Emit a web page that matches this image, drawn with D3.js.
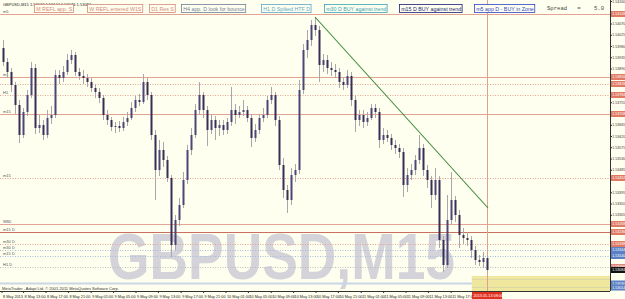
<!DOCTYPE html>
<html><head><meta charset="utf-8">
<script src="https://cdn.jsdelivr.net/npm/d3@7"></script>
<style>html,body{margin:0;padding:0;background:#fffff0;overflow:hidden}</style>
</head><body><svg id="c" width="625" height="299"></svg>
<script>
// ---- data (GBPUSD M15) ----
const symbol = "GBPUSD,M15";
const openP  = [1.53972,1.53916,1.53876,1.53824,1.53744,1.53624,1.53716,1.53784,1.53892,1.53652,1.53664,1.53624,1.53692,1.53704,1.53864,1.53852,1.53876,1.53924,1.53944,1.53876,1.53860,1.53852,1.53836,1.53812,1.53796,1.53772,1.53704,1.53684,1.53656,1.53660,1.53652,1.53676,1.53692,1.53732,1.53764,1.53756,1.53836,1.53784,1.53624,1.53484,1.53564,1.53524,1.53452,1.53184,1.53284,1.53344,1.53444,1.53564,1.53624,1.53724,1.53784,1.53724,1.53644,1.53684,1.53652,1.53664,1.53644,1.53676,1.53724,1.53704,1.53716,1.53724,1.53692,1.53612,1.53644,1.53692,1.53704,1.53764,1.53784,1.53684,1.53504,1.53404,1.53364,1.53464,1.53484,1.53804,1.53964,1.54004,1.54064,1.54044,1.53904,1.53924,1.53892,1.53884,1.53876,1.53836,1.53824,1.53860,1.53764,1.53684,1.53704,1.53676,1.53692,1.53732,1.53716,1.53604,1.53624,1.53612,1.53584,1.53572,1.53556,1.53424,1.53464,1.53484,1.53524,1.53572,1.53484,1.53444,1.53384,1.53444,1.53204,1.53104,1.53284,1.53364,1.53304,1.53224,1.53212,1.53204,1.53164,1.53124,1.53116,1.53132];
const highP  = [1.54004,1.53932,1.53892,1.53836,1.53764,1.53732,1.53804,1.53916,1.53908,1.53704,1.53684,1.53724,1.53740,1.53884,1.53884,1.53900,1.53948,1.53964,1.53956,1.53892,1.53884,1.53868,1.53852,1.53828,1.53812,1.53784,1.53724,1.53696,1.53676,1.53680,1.53696,1.53716,1.53756,1.53780,1.53788,1.53868,1.53852,1.53796,1.53644,1.53604,1.53596,1.53540,1.53464,1.53304,1.53372,1.53476,1.53584,1.53652,1.53748,1.53836,1.53796,1.53740,1.53708,1.53700,1.53684,1.53684,1.53692,1.53816,1.53748,1.53740,1.53764,1.53740,1.53708,1.53668,1.53708,1.53732,1.53780,1.53816,1.53796,1.53700,1.53532,1.53424,1.53492,1.53508,1.53844,1.53988,1.54044,1.54084,1.54096,1.54060,1.53948,1.53944,1.53916,1.53908,1.53892,1.53852,1.53884,1.53876,1.53780,1.53724,1.53724,1.53716,1.53748,1.53748,1.53732,1.53652,1.53644,1.53628,1.53604,1.53588,1.53572,1.53492,1.53508,1.53544,1.53624,1.53588,1.53504,1.53460,1.53492,1.53460,1.53220,1.53384,1.53476,1.53380,1.53324,1.53252,1.53236,1.53220,1.53180,1.53144,1.53156,1.53144];
const lowP   = [1.53900,1.53852,1.53796,1.53708,1.53592,1.53612,1.53700,1.53772,1.53628,1.53632,1.53604,1.53612,1.53668,1.53692,1.53828,1.53836,1.53864,1.53908,1.53860,1.53844,1.53828,1.53816,1.53796,1.53772,1.53752,1.53684,1.53664,1.53640,1.53632,1.53636,1.53640,1.53660,1.53684,1.53716,1.53740,1.53748,1.53764,1.53604,1.53364,1.53460,1.53496,1.53436,1.53136,1.53164,1.53260,1.53332,1.53428,1.53544,1.53612,1.53708,1.53692,1.53580,1.53628,1.53604,1.53620,1.53624,1.53628,1.53660,1.53668,1.53692,1.53700,1.53676,1.53576,1.53596,1.53628,1.53676,1.53692,1.53748,1.53660,1.53484,1.53372,1.53312,1.53344,1.53436,1.53468,1.53788,1.53932,1.53980,1.54020,1.53836,1.53876,1.53868,1.53860,1.53852,1.53812,1.53804,1.53812,1.53740,1.53636,1.53660,1.53652,1.53660,1.53684,1.53692,1.53572,1.53588,1.53596,1.53564,1.53548,1.53532,1.53376,1.53396,1.53444,1.53464,1.53508,1.53460,1.53412,1.53332,1.53364,1.53172,1.53076,1.53092,1.53268,1.53276,1.53172,1.53188,1.53180,1.53132,1.53104,1.53100,1.53092,1.53076];
const closeP = [1.53916,1.53876,1.53824,1.53744,1.53624,1.53716,1.53784,1.53892,1.53652,1.53664,1.53624,1.53692,1.53704,1.53864,1.53852,1.53876,1.53924,1.53944,1.53876,1.53860,1.53852,1.53836,1.53812,1.53796,1.53772,1.53704,1.53684,1.53656,1.53660,1.53652,1.53676,1.53692,1.53732,1.53764,1.53756,1.53836,1.53784,1.53624,1.53484,1.53564,1.53524,1.53452,1.53184,1.53284,1.53344,1.53444,1.53564,1.53624,1.53724,1.53784,1.53724,1.53644,1.53684,1.53652,1.53664,1.53644,1.53676,1.53724,1.53704,1.53716,1.53724,1.53692,1.53612,1.53644,1.53692,1.53704,1.53764,1.53784,1.53684,1.53504,1.53404,1.53364,1.53464,1.53484,1.53804,1.53964,1.54004,1.54064,1.54044,1.53904,1.53924,1.53892,1.53884,1.53876,1.53836,1.53824,1.53860,1.53764,1.53684,1.53704,1.53676,1.53692,1.53732,1.53716,1.53604,1.53624,1.53612,1.53584,1.53572,1.53556,1.53424,1.53464,1.53484,1.53524,1.53572,1.53484,1.53444,1.53384,1.53444,1.53204,1.53104,1.53284,1.53364,1.53304,1.53224,1.53212,1.53204,1.53164,1.53124,1.53116,1.53132,1.53084];

// horizontal levels
const levelPrices = [1.54108,1.53856,1.53828,1.53784,1.53708,1.53452,1.53268,1.53236,1.53188,1.53164,1.53140,1.53096];
const levelKinds  = ["res","res","resDot","resDot","res","resDot","res","resStrong","resDot","supDot","supDot","grayDot"];
const levelNames  = ["m5","m1","","H1","m15","m15","W80","m15 D","m30 D","m30 D","m15 D","H1 D"];
const supportLine = 1.53030;
const zoneTop = 1.53060, zoneBottom = 1.53000;
const zonePrices = [1.53046,1.53014];

// trend line  [bar index, price]
const trendStart = [78, 1.54096], trendEnd = [121.25, 1.53332];
const nowBar = 121;
const zoneStartBar = 117.2;

// price axis
const priceTicks = [1.54160,1.54115,1.54070,1.54025,1.53980,1.53935,1.53890,1.53845,1.53800,1.53755,1.53710,1.53665,1.53620,1.53575,1.53530,1.53485,1.53440,1.53395,1.53350,1.53305,1.53260,1.53215,1.53170,1.53125,1.53080,1.53035];

// time axis
const timeLabels = ["8 May 2013","8 May 13:00","8 May 17:00","8 May 21:00","9 May 01:00","9 May 05:00","9 May 09:00","9 May 13:00","9 May 17:00","9 May 21:00","10 May 01:00","10 May 05:00","10 May 09:00","10 May 13:00","10 May 17:00","10 May 21:00","11 May 01:00","11 May 05:00","11 May 09:00","11 May 13:00","11 May 17:00"];
const timeBars = [0,5.4,11,16.6,22.3,27.9,33.5,39.1,44.8,50.4,56,61.6,67.3,72.9,78.5,84.1,89.8,95.4,101,106.6,112.3];
const nowLabel = "2013.05.13 08:00";

// header boxes
const noteTexts = ["M REFL app. S","W REFL entered W1S","D1 Res S","H4 app. D look for bounce","H1 D Spiked HTF D","m30 D BUY against trend","m15 D BUY against trend","m5 app D - BUY in Zone"];
const noteColors = ["#d4897a","#d4897a","#d4897a","#6f8298","#5ea6c8","#3aa3b5","#1b1f7a","#2f45c8"];
const notePos = [35,88,150,182,262,325,400,475];
const spreadValue = 5.0;

// ---- drawing ----
const W = 625, H = 299, plotR = 610, plotB = 291;
const svg = d3.select("#c");
const x = d3.scaleLinear().domain([0,121]).range([3,487]);
const y = d3.scaleLinear().domain([1.53000,1.54164]).range([291,0]);
const fmt = d3.format(".5f");
const FONT = "Arial, Liberation Sans, sans-serif";

svg.append("rect").attr("width",W).attr("height",H).attr("fill","#fffff0");

// watermark
svg.append("text").attr("x",108).attr("y",279).text(symbol)
  .attr("font-family",FONT).attr("font-weight","bold")
  .attr("font-size",64).attr("fill","#d3d3d9").attr("textLength",347).attr("lengthAdjust","spacingAndGlyphs");

// yellow zone
svg.append("rect").attr("x",x(zoneStartBar)).attr("y",y(zoneTop)).attr("width",plotR-x(zoneStartBar)).attr("height",y(zoneBottom)-y(zoneTop)).attr("fill","#efe79e");
svg.selectAll(".zl").data(zonePrices).join("line").attr("x1",x(zoneStartBar)).attr("x2",plotR)
  .attr("y1",d=>y(d)).attr("y2",d=>y(d)).attr("stroke","#d8d6a8").attr("stroke-width",0.8);
// light support band
svg.append("line").attr("x1",0).attr("x2",x(zoneStartBar)).attr("y1",y(supportLine)).attr("y2",y(supportLine))
  .attr("stroke","#c9d6e6").attr("stroke-width",2.2);

// levels
const kindStyle = {
  res:{c:"#e2a595",w:1,d:null}, resDot:{c:"#e2a595",w:1,d:"1,1.5"}, resStrong:{c:"#c8705e",w:1,d:null},
  supDot:{c:"#a9bcd6",w:1,d:"1,1.5"}, grayDot:{c:"#bcbcbc",w:1,d:"1,1.5"}
};
svg.selectAll(".lv").data(levelPrices).join("line")
  .attr("x1",0).attr("x2",plotR).attr("y1",d=>Math.round(y(d))+0.5).attr("y2",d=>Math.round(y(d))+0.5)
  .attr("stroke",(d,i)=>kindStyle[levelKinds[i]].c).attr("stroke-width",(d,i)=>kindStyle[levelKinds[i]].w)
  .attr("stroke-dasharray",(d,i)=>kindStyle[levelKinds[i]].d);
svg.selectAll(".lvt").data(levelPrices).join("text")
  .attr("x",3).attr("y",d=>Math.round(y(d))-1).text((d,i)=>levelNames[i])
  .attr("font-family",FONT).attr("font-size",4).attr("fill","#555");

// vertical now line
svg.append("line").attr("x1",x(nowBar)+0.5).attr("x2",x(nowBar)+0.5).attr("y1",0).attr("y2",plotB)
  .attr("stroke","#e0a090").attr("stroke-width",1);

// candles
const idx = d3.range(closeP.length);
const g = svg.append("g");
g.selectAll(".wk").data(idx).join("line")
  .attr("x1",i=>Math.round(x(i))+0.5).attr("x2",i=>Math.round(x(i))+0.5).attr("y1",i=>y(highP[i])).attr("y2",i=>y(lowP[i]))
  .attr("stroke","#a8a8ac").attr("stroke-width",1);
g.selectAll(".bd").data(idx).join("rect")
  .attr("x",i=>Math.round(x(i))-0.5).attr("width",2)
  .attr("y",i=>y(Math.max(openP[i],closeP[i])))
  .attr("height",i=>Math.max(1,Math.abs(y(openP[i])-y(closeP[i]))))
  .attr("fill",i=>closeP[i]>=openP[i]?"#4a4676":"#3a2c55");

// trend line
svg.append("line").attr("x1",x(trendStart[0])).attr("y1",y(trendStart[1]))
  .attr("x2",x(trendEnd[0])).attr("y2",y(trendEnd[1])).attr("stroke","#3f8a3a").attr("stroke-width",1.1);

// header
svg.append("text").attr("x",3).attr("y",6).text(symbol+"  1.53132 1.53144 1.53076 1.53084")
  .attr("font-family",FONT).attr("font-size",4).attr("fill","#222");
const notes = svg.selectAll(".nt").data(noteTexts).join("g").attr("transform",(d,i)=>`translate(${notePos[i]},5)`);
notes.append("text").attr("x",1.2).attr("y",5.8).text(d=>d)
  .attr("font-family",FONT).attr("font-size",5.3).attr("fill",(d,i)=>noteColors[i])
  .each(function(){ const b=this.getBBox(); d3.select(this.parentNode).insert("rect","text")
      .attr("x",-0.5).attr("y",-0.5).attr("width",b.width+2.6).attr("height",8)
      .attr("fill","#fffff0").attr("stroke",d3.select(this).attr("fill")).attr("stroke-width",0.8); });
svg.append("text").attr("x",547).attr("y",9.5).attr("xml:space","preserve").text("Spread   =    "+spreadValue.toFixed(1))
  .attr("font-family","Liberation Mono, Courier New, monospace").attr("font-size",5.6).attr("fill","#444");

// copyright
svg.append("text").attr("x",2).attr("y",289.5).text("MetaTrader - Adapt Ltd.  © 2001-2011 MetaQuotes Software Corp.")
  .attr("font-family",FONT).attr("font-size",4).attr("fill","#333");

// axes lines
svg.append("line").attr("x1",plotR+0.5).attr("x2",plotR+0.5).attr("y1",0).attr("y2",plotB).attr("stroke","#333");
svg.append("line").attr("x1",0).attr("x2",plotR).attr("y1",plotB+0.5).attr("y2",plotB+0.5).attr("stroke","#333");

// colored price tags
const tagPrices = levelPrices.concat([closeP[closeP.length-1], 1.53030, 1.53014]);
const tagColors = levelKinds.map(k=>k.startsWith("sup")?"#5b7fc4":(k==="grayDot"?"#d98a7a":"#e07a62")).concat(["#111","#5b7fc4","#5b7fc4"]);

// price axis (hide labels hidden under tags)
const freeTicks = priceTicks.filter(t=>tagPrices.every(p=>Math.abs(y(p)-y(t))>6));
const pa = svg.append("g").attr("transform",`translate(${plotR},0)`)
  .call(d3.axisRight(y).tickValues(freeTicks).tickSize(2).tickFormat(fmt));
pa.select(".domain").remove();
pa.selectAll("text").attr("font-size",3.6).attr("font-family",FONT).attr("fill","#333").attr("x",2.2);
pa.selectAll("line").attr("stroke","#333");

const tagG = svg.append("g");
const tags = tagG.selectAll("g").data(tagPrices).join("g").attr("transform",d=>`translate(${plotR+1},${y(d)-3})`);
tags.append("rect").attr("width",W-plotR-1).attr("height",6).attr("fill",(d,i)=>tagColors[i]);
tags.append("text").attr("x",1.2).attr("y",4.4).text(d=>fmt(d)).attr("font-size",3.6).attr("font-family",FONT).attr("fill","#fff");

// time axis
const ta = svg.append("g");
ta.selectAll("line").data(timeBars).join("line").attr("x1",d=>x(d)-1).attr("x2",d=>x(d)-1).attr("y1",plotB).attr("y2",plotB+2).attr("stroke","#333");
ta.selectAll("text").data(timeLabels).join("text").attr("x",(d,i)=>x(timeBars[i])).attr("y",297.5).text(d=>d)
  .attr("font-family",FONT).attr("font-size",3.8).attr("fill","#222");
const nl = svg.append("g").attr("transform",`translate(${x(nowBar)-15},292)`);
nl.append("rect").attr("width",30).attr("height",7).attr("fill","#e03020");
nl.append("text").attr("x",1.5).attr("y",5.2).text(nowLabel).attr("font-size",3.8).attr("font-family",FONT).attr("fill","#fff");
</script></body></html>
